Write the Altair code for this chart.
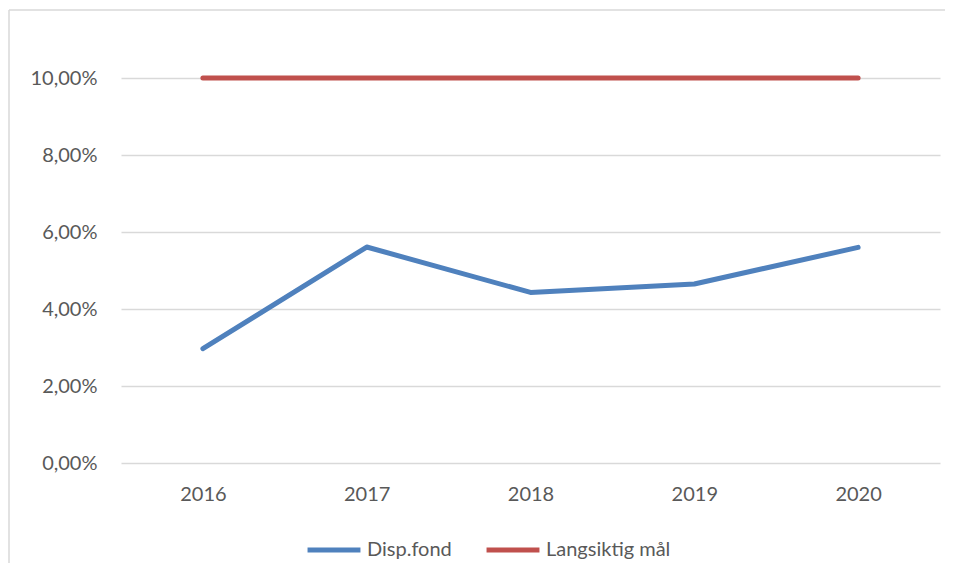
import altair as alt
import pandas as pd

years = ["2016", "2017", "2018", "2019", "2020"]
disp_fond = [0.0297, 0.0561, 0.0443, 0.0465, 0.0560]
langsiktig_maal = [0.10, 0.10, 0.10, 0.10, 0.10]
series_names = ["Disp.fond", "Langsiktig mål"]
series_colors = ["#4f81bd", "#c0504d"]

rows = []
for y, v in zip(years, disp_fond):
    rows.append({"year": y, "value": v, "series": series_names[0]})
for y, v in zip(years, langsiktig_maal):
    rows.append({"year": y, "value": v, "series": series_names[1]})
df = pd.DataFrame(rows)

FONT = "Lato"
FS = 20

lines = alt.Chart(df).mark_line(strokeWidth=5, strokeCap="round", strokeJoin="round").encode(
    x=alt.X("year:N", sort=years, title=None,
            scale=alt.Scale(type="point", padding=0.5),
            axis=alt.Axis(labelAngle=0, ticks=False, domain=False, grid=False,
                          labelPadding=21, labelFontSize=FS, labelColor="#595959",
                          labelFont=FONT)),
    y=alt.Y("value:Q", title=None,
            scale=alt.Scale(domain=[0, 0.10], nice=False, zero=True),
            axis=alt.Axis(values=[0, 0.02, 0.04, 0.06, 0.08, 0.10],
                          labelExpr="replace(format(datum.value, '.2%'), '.', ',')",
                          ticks=False, domain=False, grid=True,
                          gridColor="#d9d9d9", gridWidth=1.5,
                          labelPadding=24, labelFontSize=FS, labelColor="#595959",
                          labelFont=FONT)),
    color=alt.Color("series:N", title=None,
                    scale=alt.Scale(domain=series_names, range=series_colors),
                    legend=alt.Legend(orient="none", legendX=184, legendY=443,
                                      direction="horizontal", symbolType="stroke",
                                      symbolSize=2800, symbolStrokeWidth=5,
                                      labelFontSize=FS, labelColor="#595959",
                                      labelFont=FONT, columnPadding=24,
                                      labelOffset=4, padding=0)),
)

edge = pd.DataFrame({"a": [1]})
border_top = alt.Chart(edge).mark_rule(stroke="#d9d9d9", strokeWidth=1.5).encode(
    x=alt.value(-112), x2=alt.value(830), y=alt.value(-68)
)
border_left = alt.Chart(edge).mark_rule(stroke="#d9d9d9", strokeWidth=1.5).encode(
    x=alt.value(-112), y=alt.value(-68), y2=alt.value(600)
)

chart = alt.layer(border_top, border_left, lines).properties(
    width=819, height=385,
    background="white",
    autosize=alt.AutoSizeParams(type="none"),
    padding={"left": 113, "top": 70, "right": 5, "bottom": 100},
).configure_view(strokeWidth=0, stroke=None)

chart.save("out.html", embed_options={"renderer": "svg", "actions": False})
